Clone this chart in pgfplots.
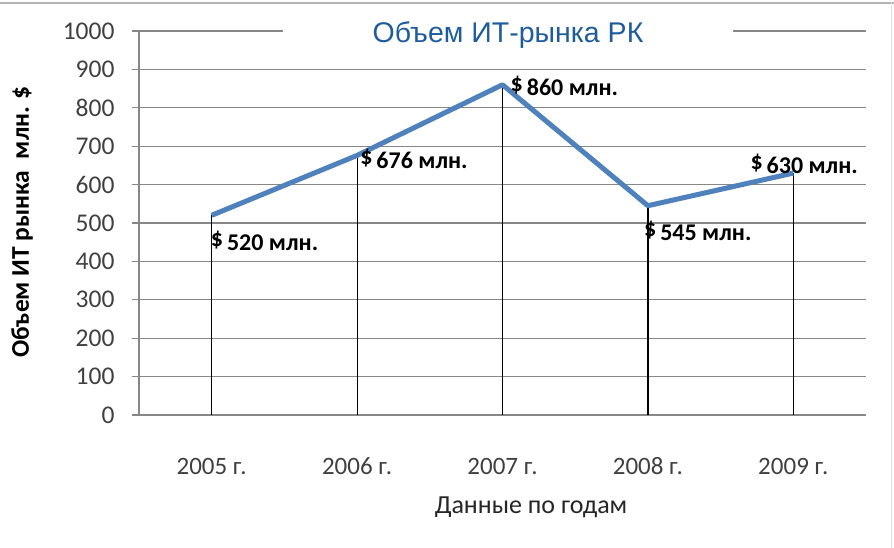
\documentclass[border=0pt]{standalone}
\usepackage{pgfplots}
\pgfplotsset{compat=1.18}
\usepackage{fontspec}
\setmainfont{Carlito}
\newfontfamily\arialf{Liberation Sans}
\definecolor{lineblue}{HTML}{4F81BD}
\definecolor{titleblue}{HTML}{1F5C9E}
\definecolor{gridgray}{HTML}{878787}
\definecolor{txtgray}{HTML}{404040}
\newcommand{\lbl}[1]{\bfseries\raisebox{4pt}{\$}\,#1 млн.}
\begin{document}
\begin{tikzpicture}[x=1pt,y=1pt]
\useasboundingbox (0,0) rectangle (894,548);
\fill[white] (0,0) rectangle (894,548);
\draw[gray!60, line width=2.5pt] (0,545) -- (894,545);
\draw[gray!25, line width=1pt] (891.5,0) -- (891.5,546);
\begin{axis}[
  at={(139pt,133pt)}, anchor=south west,
  scale only axis, width=727pt, height=384pt,
  xmin=-0.5, xmax=4.5, ymin=0, ymax=1000,
  ytick={0,100,...,1000}, xtick={0,...,4},
  xticklabels={2005 г., 2006 г., 2007 г., 2008 г., 2009 г.},
  axis x line=bottom, axis y line=left,
  axis line style={gridgray, line width=1.3pt, -},
  ymajorgrids, grid style={gridgray, line width=1.3pt},
  major tick length=7pt, tick align=outside,
  ytick style={gridgray, line width=1.3pt}, xtick style={draw=none},
  yticklabel style={font=\fontsize{25.5}{27}\selectfont, text=txtgray, xshift=-14pt},
  xticklabel style={font=\fontsize{25}{27}\selectfont, text=txtgray, anchor=center, text height=15pt, text depth=0pt, yshift=-45pt},
  /pgf/number format/assume math mode=true,
  /pgf/number format/1000 sep={},
  clip=false,
]
\addplot[ycomb, black, line width=1.2pt, mark=none] coordinates {(0,520) (1,676) (2,860) (3,545) (4,630)};
\addplot[lineblue, line width=5pt, mark=none, line join=round] coordinates {(0,520) (1,676) (2,860) (3,545) (4,630)};
\node[anchor=west, font=\fontsize{24}{26}\selectfont, inner sep=0pt, xshift=-1pt, yshift=-26pt] at (axis cs:0,520) {\lbl{520}};
\node[anchor=west, font=\fontsize{24}{26}\selectfont, inner sep=0pt, xshift=3pt, yshift=-3pt] at (axis cs:1,676) {\lbl{676}};
\node[anchor=west, font=\fontsize{24}{26}\selectfont, inner sep=0pt, xshift=8pt, yshift=-1pt] at (axis cs:2,860) {\lbl{860}};
\node[anchor=west, font=\fontsize{24}{26}\selectfont, inner sep=0pt, xshift=-4pt, yshift=-25pt] at (axis cs:3,545) {\lbl{545}};
\node[anchor=west, font=\fontsize{24}{26}\selectfont, inner sep=0pt, xshift=-43pt, yshift=9pt] at (axis cs:4,630) {\lbl{630}};
\end{axis}
\fill[white] (283,500) rectangle (733,530);
\node[font=\arialf\fontsize{28.5}{30}\selectfont, text=titleblue] at (508,513) {Объем ИТ-рынка РК};
\node[font=\fontsize{25.5}{27}\selectfont\bfseries, text=black, rotate=90] at (22,326) {Объем ИТ рынка \ млн. \$};
\node[font=\fontsize{26}{28}\selectfont, text=black!85] at (531,41) {Данные по годам};
\end{tikzpicture}
\end{document}
